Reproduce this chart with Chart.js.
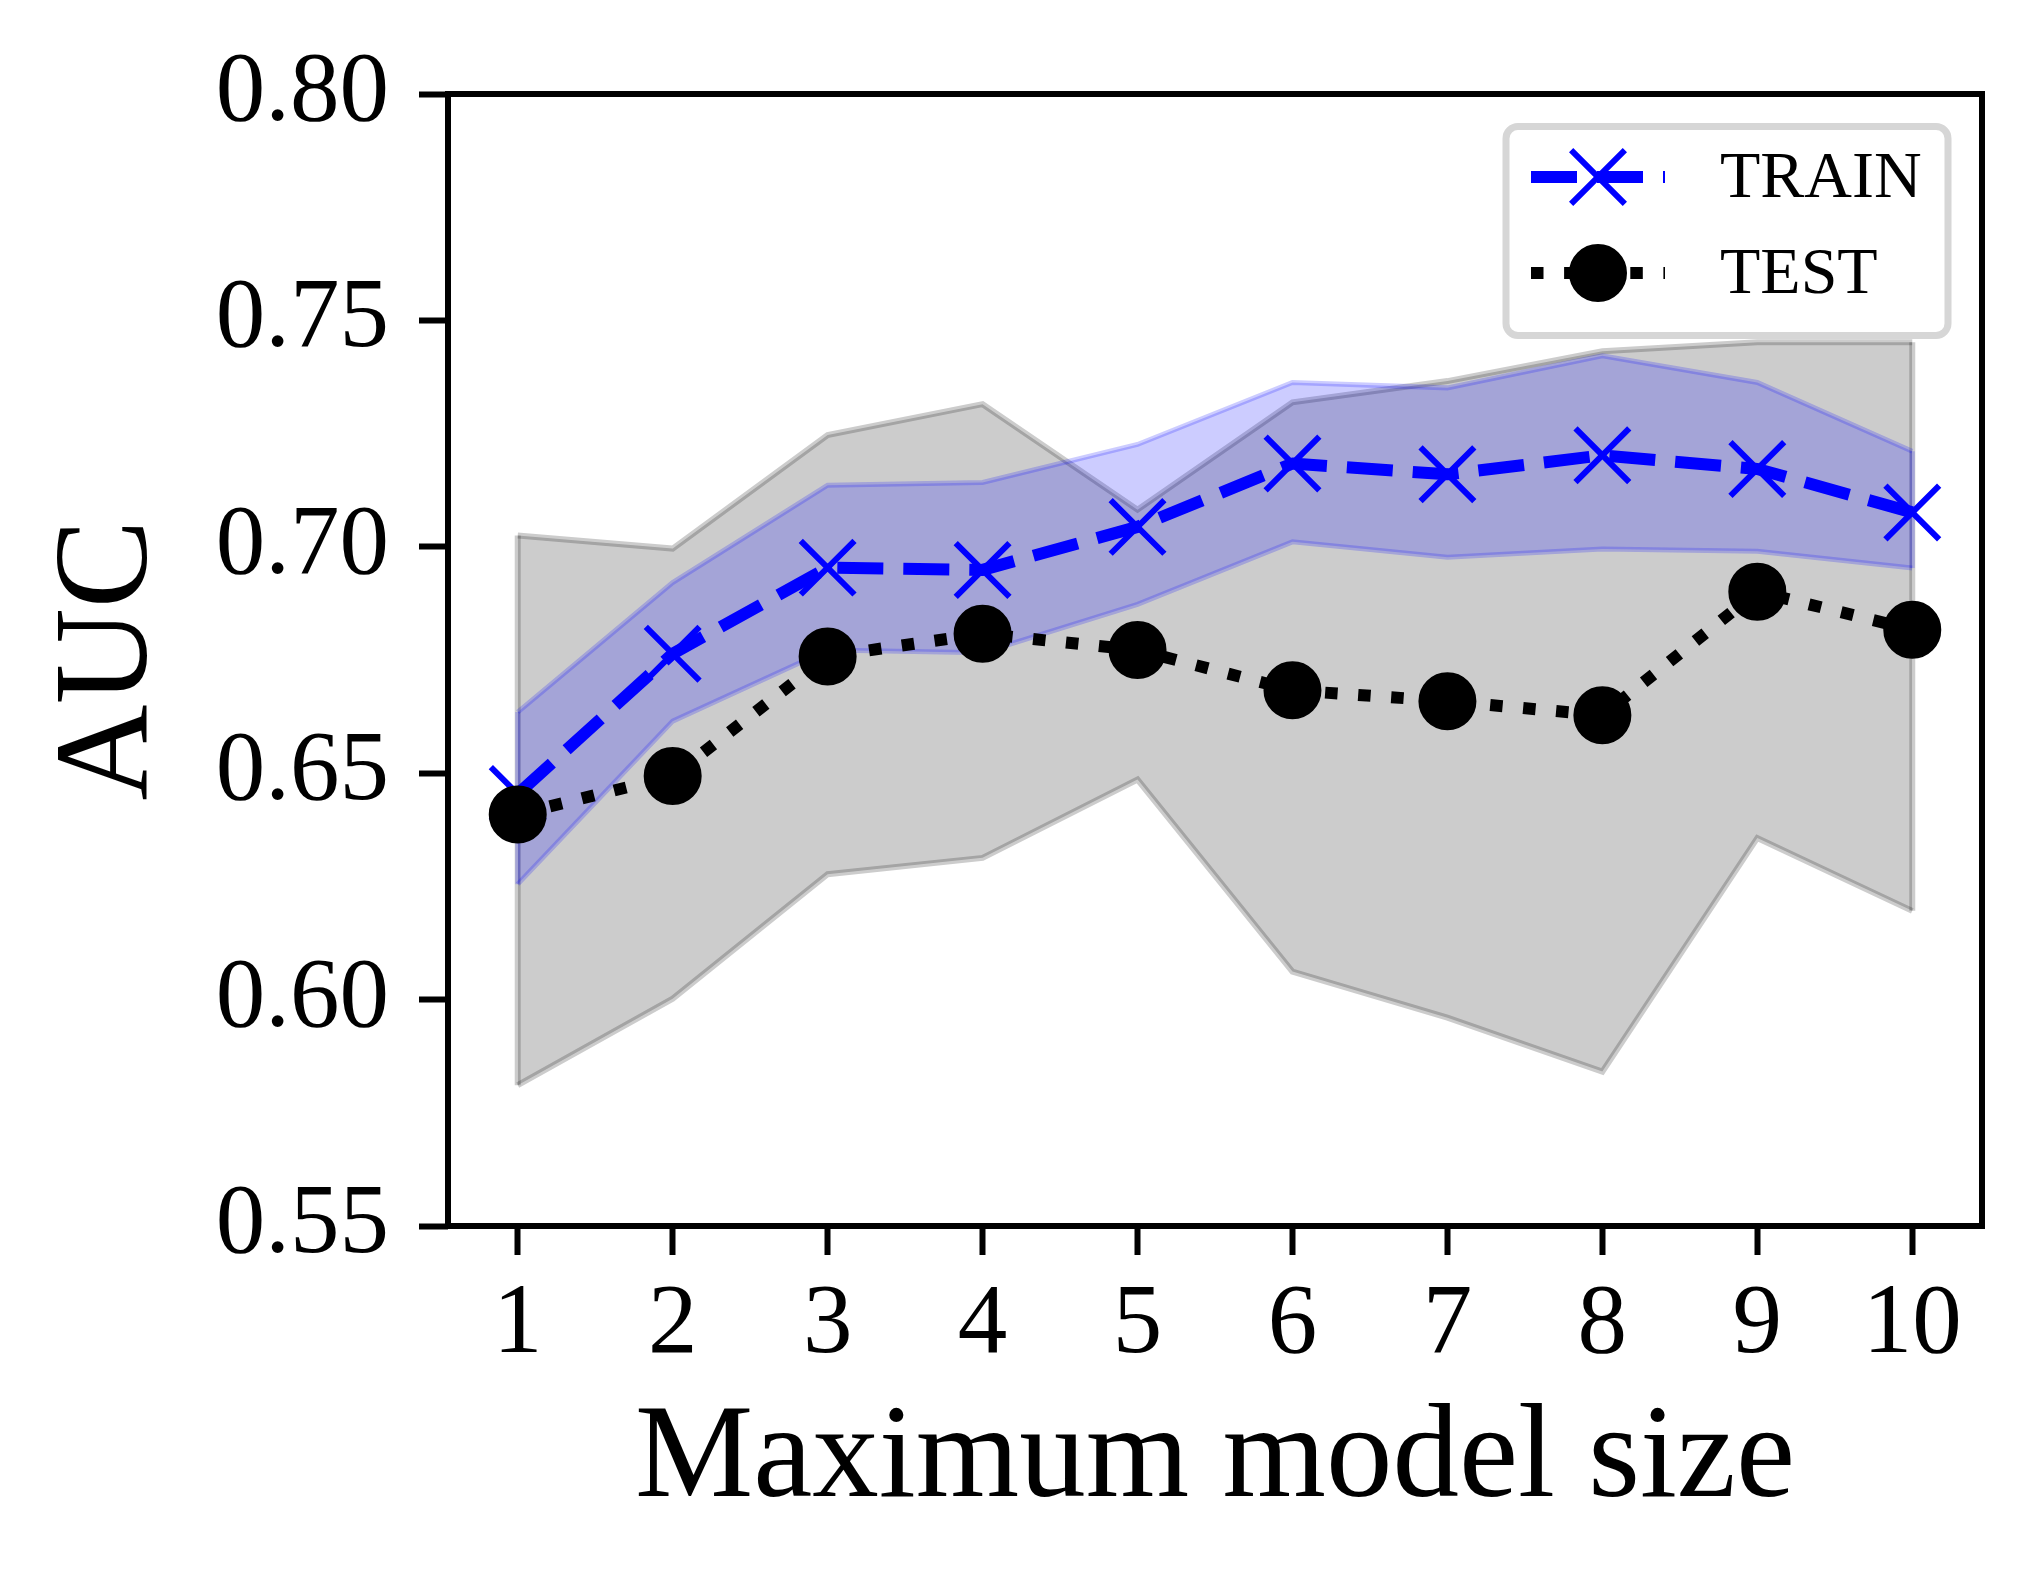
<!DOCTYPE html>
<html>
<head>
<meta charset="utf-8">
<script src="https://cdn.jsdelivr.net/npm/chart.js@4"></script>
<style>
  html, body { margin: 0; padding: 0; background: #fff; }
</style>
</head>
<body>
<canvas id="aucChart" width="2041" height="1588"></canvas>
<script>
const modelSizes = [1, 2, 3, 4, 5, 6, 7, 8, 9, 10];
const trainMean  = [0.6454, 0.6764, 0.6954, 0.6949, 0.7044, 0.7184, 0.716, 0.7202, 0.7172, 0.7076];
const trainUpper = [0.6635, 0.6921, 0.7136, 0.7142, 0.7226, 0.7363, 0.7351, 0.7422, 0.7363, 0.7211];
const trainLower = [0.6255, 0.6615, 0.6772, 0.6766, 0.6873, 0.7011, 0.6977, 0.6995, 0.699, 0.6953];
const testMean   = [0.6409, 0.6494, 0.6758, 0.6808, 0.6772, 0.6683, 0.6659, 0.6628, 0.6901, 0.6817];
const testUpper  = [0.7025, 0.6996, 0.7247, 0.7315, 0.7082, 0.7319, 0.7366, 0.7432, 0.7452, 0.7452];
const testLower  = [0.5811, 0.6002, 0.6277, 0.6313, 0.6486, 0.6062, 0.596, 0.5841, 0.6357, 0.6196];
const yTicks = [0.55, 0.60, 0.65, 0.70, 0.75, 0.80];

const serif = 'Liberation Serif';

function pts(values) {
  return values.map(function (v, i) { return { x: modelSizes[i], y: v }; });
}

// closing edges of the shaded bands, the plot frame and the legend
const framePlugin = {
  id: 'frame',
  beforeDatasetsDraw: function (chart) {
    const ctx = chart.ctx;
    const xs = chart.scales.x, ys = chart.scales.y;
    const bands = [
      { up: testUpper, lo: testLower, color: 'rgba(0,0,0,0.2)', w: 6 },
      { up: trainUpper, lo: trainLower, color: 'rgba(0,0,255,0.2)', w: 5 }
    ];
    ctx.save();
    bands.forEach(function (b) {
      [0, modelSizes.length - 1].forEach(function (i) {
        const px = xs.getPixelForValue(modelSizes[i]);
        ctx.beginPath();
        ctx.strokeStyle = b.color;
        ctx.lineWidth = b.w;
        ctx.moveTo(px, ys.getPixelForValue(b.up[i]));
        ctx.lineTo(px, ys.getPixelForValue(b.lo[i]));
        ctx.stroke();
      });
    });
    ctx.restore();
  },
  afterDraw: function (chart) {
    const ctx = chart.ctx;
    const a = chart.chartArea;
    ctx.save();
    ctx.strokeStyle = '#000';
    ctx.lineWidth = 6;
    ctx.strokeRect(a.left, a.top, a.right - a.left, a.bottom - a.top);

    // legend
    const bx = 1506, by = 126.5, bw = 442, bh = 209, r = 12;
    ctx.beginPath();
    ctx.roundRect(bx, by, bw, bh, r);
    ctx.fillStyle = 'rgba(255,255,255,0.8)';
    ctx.fill();
    ctx.lineWidth = 7;
    ctx.strokeStyle = '#d6d6d6';
    ctx.stroke();

    const entries = [
      { ds: chart.data.datasets[1], y: 177 },
      { ds: chart.data.datasets[0], y: 273 }
    ];
    entries.forEach(function (e) {
      const ds = e.ds;
      ctx.save();
      ctx.beginPath();
      ctx.setLineDash(ds.borderDash);
      ctx.lineWidth = ds.borderWidth;
      ctx.strokeStyle = ds.borderColor;
      ctx.lineCap = 'butt';
      ctx.moveTo(1531, e.y);
      ctx.lineTo(1665, e.y);
      ctx.stroke();
      ctx.restore();

      ctx.fillStyle = ds.pointBackgroundColor;
      ctx.strokeStyle = ds.pointBorderColor;
      ctx.lineWidth = ds.pointBorderWidth;
      ctx.beginPath();
      if (ds.pointStyle === 'circle') {
        ctx.arc(1598, e.y, ds.pointRadius, 0, Math.PI * 2);
        ctx.fill();
        ctx.stroke();
      } else {
        const d = ds.pointRadius * Math.SQRT1_2;
        ctx.moveTo(1598 - d, e.y - d); ctx.lineTo(1598 + d, e.y + d);
        ctx.moveTo(1598 - d, e.y + d); ctx.lineTo(1598 + d, e.y - d);
        ctx.stroke();
      }
      ctx.fillStyle = '#000';
      ctx.font = '66px "' + serif + '"';
      ctx.textBaseline = 'middle';
      ctx.textAlign = 'left';
      ctx.fillText(ds.label, 1720, e.y + 3);
    });
    ctx.restore();
  }
};

const ctx = document.getElementById('aucChart');

const aucChart = new Chart(ctx, {
  type: 'line',
  data: {
    datasets: [
      {
        label: 'TEST',
        data: pts(testMean),
        borderColor: '#000',
        borderWidth: 12,
        borderDash: [12.5, 20.6],
        borderJoinStyle: 'round',
        pointStyle: 'circle',
        pointRadius: 28,
        pointBorderWidth: 2,
        pointBackgroundColor: '#000',
        pointBorderColor: '#000',
        fill: false,
        order: 0
      },
      {
        label: 'TRAIN',
        data: pts(trainMean),
        borderColor: '#0000ff',
        borderWidth: 12,
        borderDash: [46, 20],
        borderJoinStyle: 'round',
        pointStyle: 'crossRot',
        pointRadius: 38,
        pointBorderWidth: 6,
        pointBackgroundColor: '#0000ff',
        pointBorderColor: '#0000ff',
        fill: false,
        order: 1
      },
      {
        label: 'train upper',
        data: pts(trainUpper),
        borderColor: 'rgba(0,0,255,0.2)',
        borderWidth: 5,
        backgroundColor: 'rgba(0,0,255,0.2)',
        pointRadius: 0,
        fill: '+1',
        order: 2
      },
      {
        label: 'train lower',
        data: pts(trainLower),
        borderColor: 'rgba(0,0,255,0.2)',
        borderWidth: 5,
        pointRadius: 0,
        fill: false,
        order: 3
      },
      {
        label: 'test upper',
        data: pts(testUpper),
        borderColor: 'rgba(0,0,0,0.2)',
        borderWidth: 6,
        backgroundColor: 'rgba(0,0,0,0.2)',
        pointRadius: 0,
        fill: '+1',
        order: 4
      },
      {
        label: 'test lower',
        data: pts(testLower),
        borderColor: 'rgba(0,0,0,0.2)',
        borderWidth: 6,
        pointRadius: 0,
        fill: false,
        order: 5
      }
    ]
  },
  options: {
    responsive: false,
    animation: false,
    devicePixelRatio: 1,
    events: [],
    layout: {
      padding: { top: 94, right: 59, bottom: 0, left: 0 }
    },
    scales: {
      x: {
        type: 'linear',
        min: 0.55,
        max: 10.45,
        afterBuildTicks: function (scale) {
          scale.ticks = modelSizes.map(function (v) { return { value: v }; });
        },
        afterFit: function (scale) { scale.height = 362; },
        border: { display: false },
        grid: {
          drawOnChartArea: false,
          drawTicks: true,
          tickLength: 29,
          tickWidth: 6,
          tickColor: '#000'
        },
        ticks: {
          color: '#000',
          padding: 12,
          maxRotation: 0,
          font: { family: serif, size: 99 },
          callback: function (v) { return String(v); }
        },
        title: {
          display: true,
          text: 'Maximum model size',
          color: '#000',
          font: { family: serif, size: 133 },
          padding: { top: 0, bottom: 47 }
        }
      },
      y: {
        min: 0.55,
        max: 0.80,
        afterBuildTicks: function (scale) {
          scale.ticks = yTicks.map(function (v) { return { value: v }; });
        },
        afterFit: function (scale) { scale.width = 448; },
        border: { display: false },
        grid: {
          drawOnChartArea: false,
          drawTicks: true,
          tickLength: 29,
          tickWidth: 6,
          tickColor: '#000'
        },
        ticks: {
          color: '#000',
          padding: 30,
          font: { family: serif, size: 99 },
          callback: function (v) { return v.toFixed(2); }
        },
        title: {
          display: true,
          text: 'AUC',
          color: '#000',
          font: { family: serif, size: 133 },
          padding: { top: 31, bottom: 0 }
        }
      }
    },
    plugins: {
      legend: { display: false },
      tooltip: { enabled: false }
    }
  },
  plugins: [framePlugin]
});
</script>
</body>
</html>
